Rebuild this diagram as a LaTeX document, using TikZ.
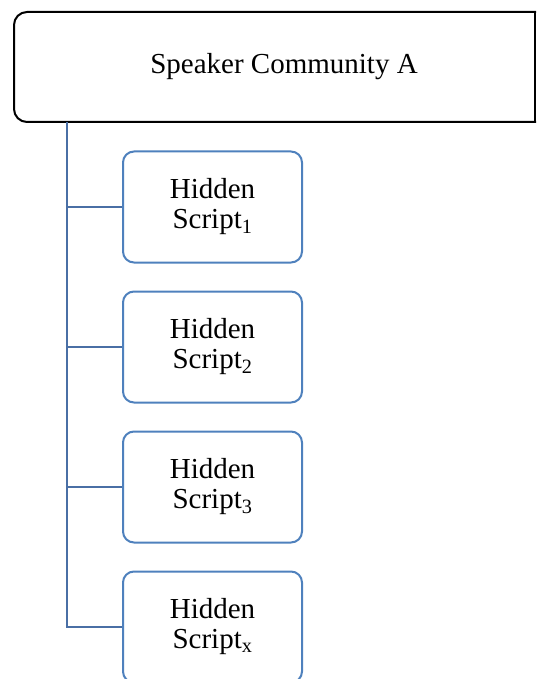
\documentclass[tikz,border=0pt]{standalone}
\usepackage{fontspec}
\setmainfont{Liberation Serif}
\begin{document}
\begin{tikzpicture}[x=1pt,y=-1pt,
  childbox/.style={draw=boxblue,line width=2pt,rounded corners=11pt,minimum width=179pt,minimum height=111pt,align=center,fill=white,font=\fontsize{29}{30}\selectfont},
  branch/.style={draw=lineblue,line width=2pt}]
\definecolor{boxblue}{HTML}{4F81BD}
\definecolor{lineblue}{HTML}{4A6FA5}
\useasboundingbox (0,0) rectangle (536,679);
\clip (0,0) rectangle (536,679);
% top box: rounded on the left, open edge at the right border
\draw[line width=2pt,rounded corners=13pt] (545,12) -- (14,12) -- (14,122) -- (545,122);
\draw[line width=2pt] (535,12) -- (535,122);
\node[font=\fontsize{29}{30}\selectfont] (top) at (284,67) {Speaker Community A};
\coordinate (trunk) at (67,122);
\node[childbox] (h1) at (212.5,207) {Hidden\\Script\textsubscript{1}};
\node[childbox] (h2) at (212.5,347) {Hidden\\Script\textsubscript{2}};
\node[childbox] (h3) at (212.5,487) {Hidden\\Script\textsubscript{3}};
\node[childbox] (hx) at (212.5,627) {Hidden\\Script\textsubscript{x}};
\draw[branch] (trunk) |- (hx.west);
\foreach \n in {h1,h2,h3} \draw[branch] (trunk |- \n.west) -- (\n.west);
\end{tikzpicture}
\end{document}
